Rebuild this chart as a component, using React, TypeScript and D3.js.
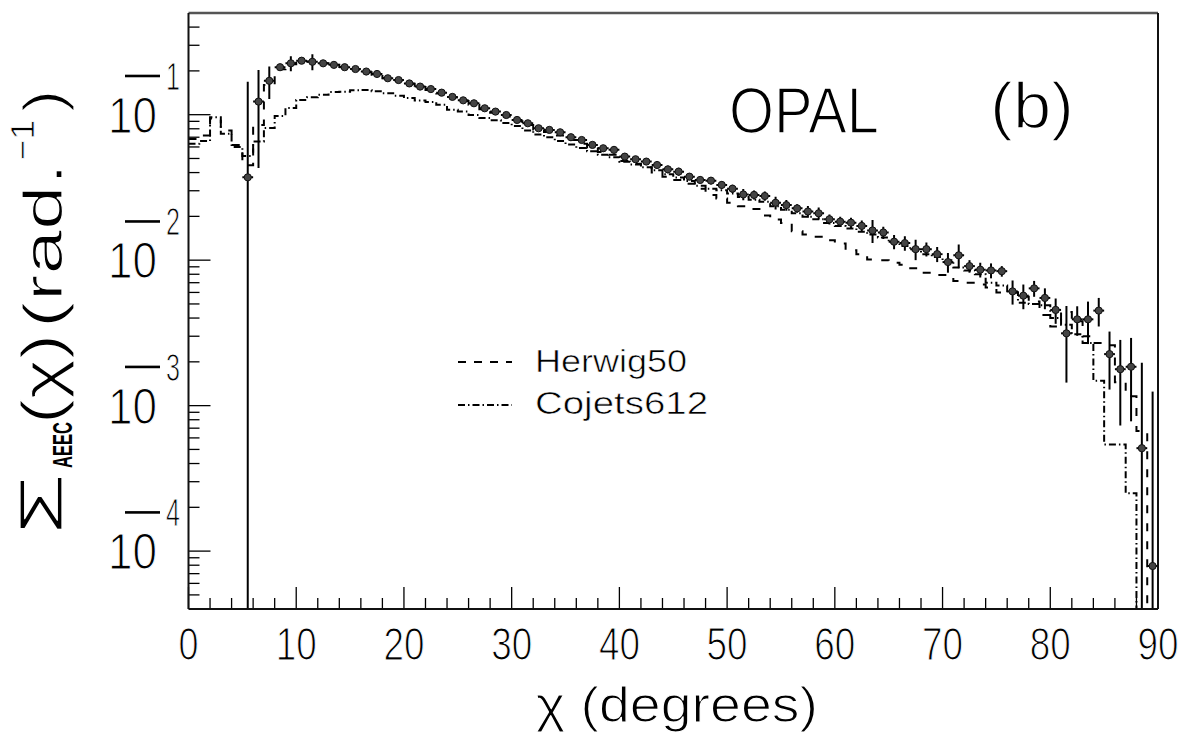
import React from 'react';
import * as d3 from 'd3';

const W = 1191;
const H = 742;
const PL = 188.5, PR = 1158, PT = 13, PB = 609;

// OPAL data: bin centres start at 5.5 deg, 1 deg bins
const dataFirstBin = 5;
const dataValues = [
  0.0371, 0.123, 0.171, 0.212, 0.2255, 0.235, 0.231, 0.2255, 0.22, 0.212,
  0.206, 0.198, 0.1905, 0.178, 0.173, 0.164, 0.156, 0.15, 0.1417, 0.1325,
  0.1255, 0.1198, 0.1107, 0.105, 0.0995, 0.092, 0.0873, 0.0807, 0.0786, 0.0757,
  0.07, 0.067, 0.062, 0.0588, 0.0573, 0.0515, 0.0494, 0.0476, 0.0451, 0.0421,
  0.0406, 0.0375, 0.0356, 0.0352, 0.0329, 0.031, 0.0283, 0.0281, 0.0276, 0.0248,
  0.0239, 0.0227, 0.0216, 0.021, 0.0191, 0.0184, 0.0181, 0.0172, 0.016, 0.0155,
  0.0134, 0.0131, 0.0119, 0.0119, 0.011, 0.0097, 0.0108, 0.0091, 0.0086, 0.0085,
  0.0084, 0.0061, 0.0057, 0.0064, 0.0055, 0.00455, 0.00314, 0.00392, 0.00392, 0.0045,
  0.00226, 0.00178, 0.00185, 0.00051, 0.000079,
];
const dataErrors = [
  0.1315, 0.08, 0.043, 0.01, 0.027, 0.01, 0.029, 0.008, 0.007, 0.006,
  0.006, 0.005, 0.005, 0.005, 0.005, 0.004, 0.004, 0.004, 0.004, 0.004,
  0.004, 0.004, 0.003, 0.003, 0.003, 0.003, 0.003, 0.003, 0.003, 0.003,
  0.003, 0.003, 0.003, 0.003, 0.003, 0.0025, 0.0025, 0.0025, 0.0025, 0.0025,
  0.0025, 0.002, 0.002, 0.002, 0.002, 0.002, 0.0025, 0.002, 0.002, 0.0025,
  0.002, 0.0015, 0.002, 0.002, 0.0015, 0.0015, 0.0015, 0.0015, 0.0029, 0.0015,
  0.0015, 0.0015, 0.0019, 0.0013, 0.0013, 0.0015, 0.002, 0.0009, 0.001, 0.001,
  0.0007, 0.00115, 0.0011, 0.0008, 0.0009, 0.0009, 0.0017, 0.0009, 0.00127, 0.001,
  0.00097, 0.00105, 0.00107, 0.00146, 0.00117,
];

// Monte Carlo histograms, bins 0-1 ... 89-90
const herwigValues = [
  0.068, 0.072, 0.094, 0.078, 0.062, 0.045, 0.085, 0.16, 0.205, 0.222,
  0.232, 0.232, 0.226, 0.22, 0.213, 0.204, 0.196, 0.188, 0.178, 0.171,
  0.163, 0.155, 0.148, 0.14, 0.131, 0.124, 0.117, 0.109, 0.103, 0.097,
  0.09, 0.085, 0.079, 0.076, 0.072, 0.067, 0.063, 0.059, 0.0555, 0.053,
  0.048, 0.046, 0.0435, 0.04, 0.0375, 0.0355, 0.0335, 0.031, 0.0281, 0.0265,
  0.0248, 0.0235, 0.0225, 0.0203, 0.019, 0.018, 0.0158, 0.015, 0.0145, 0.0137,
  0.013, 0.0117, 0.011, 0.0101, 0.01, 0.0096, 0.0093, 0.0088, 0.0082, 0.0079,
  0.0079, 0.0072, 0.007, 0.0068, 0.0065, 0.006, 0.006, 0.0056, 0.0052, 0.0042,
  0.0035, 0.0044, 0.0038, 0.003, 0.0027, 0.0026, 0.00145, 0.00116, 0.00067, 0,
];
const cojetsValues = [
  0.063, 0.066, 0.096, 0.074, 0.06, 0.052, 0.0655, 0.081, 0.098, 0.111,
  0.126, 0.132, 0.137, 0.143, 0.144, 0.147, 0.148, 0.145, 0.1405, 0.135,
  0.13, 0.125, 0.122, 0.117, 0.108, 0.105, 0.0995, 0.095, 0.0915, 0.0875,
  0.0835, 0.078, 0.073, 0.07, 0.066, 0.0625, 0.059, 0.056, 0.053, 0.051,
  0.0475, 0.0455, 0.0435, 0.0415, 0.039, 0.037, 0.035, 0.0325, 0.031, 0.0302,
  0.0287, 0.0272, 0.026, 0.0252, 0.0235, 0.0222, 0.021, 0.0199, 0.0191, 0.018,
  0.0172, 0.0165, 0.0157, 0.015, 0.0143, 0.0132, 0.0125, 0.0117, 0.011, 0.0105,
  0.01, 0.0089, 0.0085, 0.008, 0.007, 0.0067, 0.006, 0.0051, 0.005, 0.0049,
  0.004, 0.0036, 0.0031, 0.0027, 0.00148, 0.00054, 0.00054, 0.00025, 0, 0,
];

const xTickLabels = ['0', '10', '20', '30', '40', '50', '60', '70', '80', '90'];
const yDecades = [1e-1, 1e-2, 1e-3, 1e-4];
const yDecadeExps = ['1', '2', '3', '4'];

const FONT = "'Liberation Sans', Arial, Helvetica, sans-serif";
// thin the glyph strokes a little (white outline over the fill)
const thin = (w: number) => ({ stroke: '#fff', strokeWidth: w, strokeLinejoin: 'round' as const });

export default function App() {
  const x = d3.scaleLinear().domain([0, 90]).range([PL, PR]);
  const y = d3.scaleLog().domain([4e-5, 0.5]).range([PB, PT]);
  const yv = (v: number) => (v > 0 ? y(v) : PB + 30);

  const histPath = (vals: number[]) => {
    let d = `M${x(0)},${yv(vals[0])}`;
    vals.forEach((v, i) => {
      if (i > 0) d += `V${yv(v)}`;
      d += `H${x(i + 1)}`;
    });
    return d;
  };

  const xMinor = d3.range(0, 91, 2).filter((t) => t % 10 !== 0);
  const xMajor = d3.range(0, 91, 10);
  const yMinor: number[] = [];
  [-5, -4, -3, -2, -1].forEach((e) => {
    for (let k = 2; k <= 9; k++) {
      const v = k * Math.pow(10, e);
      if (v > 4e-5 && v < 0.5) yMinor.push(v);
    }
  });

  return (
    <div style={{ position: 'fixed', left: 0, top: 0 }}>
      <svg width={W} height={H} viewBox={`0 0 ${W} ${H}`} style={{ display: 'block', background: '#fff' }}>
        <defs>
          <clipPath id="plotclip">
            <rect x={PL} y={PT} width={PR - PL} height={PB - PT} />
          </clipPath>
        </defs>

        <g stroke="#000" strokeWidth={1.3}>
          {xMinor.map((t) => (
            <line key={'xm' + t} x1={x(t)} x2={x(t)} y1={PB} y2={PB - 11} />
          ))}
          {xMajor.map((t) => (
            <line key={'xM' + t} x1={x(t)} x2={x(t)} y1={PB} y2={PB - 22} />
          ))}
          {yMinor.map((v) => (
            <line key={'ym' + v} x1={PL} x2={PL + 11} y1={y(v)} y2={y(v)} />
          ))}
          {yDecades.map((v) => (
            <line key={'yM' + v} x1={PL} x2={PL + 22} y1={y(v)} y2={y(v)} />
          ))}
        </g>

        <g clipPath="url(#plotclip)" fill="none" stroke="#000" strokeWidth={2}>
          <path d={histPath(herwigValues)} strokeDasharray="8 10" />
          <path d={histPath(cojetsValues)} strokeDasharray="7 3 1.5 3" />
        </g>

        <g clipPath="url(#plotclip)">
          {dataValues.map((v, i) => {
            const c = dataFirstBin + i + 0.5;
            const e = dataErrors[i];
            const lo = v - e;
            return (
              <g key={'d' + i}>
                <line x1={x(c)} x2={x(c)} y1={y(v + e)} y2={lo > 0 ? y(lo) : PB + 10} stroke="#000" strokeWidth={2} />
                <line x1={x(c - 0.5)} x2={x(c + 0.5)} y1={y(v)} y2={y(v)} stroke="#000" strokeWidth={2} />
                <circle cx={x(c)} cy={y(v)} r={3.6} fill="#444" stroke="#111" strokeWidth={1} />
              </g>
            );
          })}
        </g>

        <line x1={PL} x2={PR} y1={PT} y2={PT} stroke="#555" strokeWidth={2.5} />
        <line x1={PL} x2={PL} y1={PT} y2={PB} stroke="#111" strokeWidth={2} />
        <line x1={PR} x2={PR} y1={PT} y2={PB} stroke="#111" strokeWidth={2} />
        <line x1={PL} x2={PR} y1={PB} y2={PB} stroke="#111" strokeWidth={2} />

        <g fontFamily={FONT} fontSize={47} fill="#000" textAnchor="middle" {...thin(1.2)}>
          {xTickLabels.map((s, i) => (
            <text key={'xl' + s} x={x(i * 10)} y={660} textLength={s.length === 1 ? 20 : 41} lengthAdjust="spacingAndGlyphs">
              {s}
            </text>
          ))}
        </g>

        <g fontFamily={FONT} fill="#000">
          {yDecades.map((v, i) => {
            const t = y(v);
            return (
              <g key={'yl' + i}>
                <text x={108} y={t + 18} fontSize={50} textLength={49} lengthAdjust="spacingAndGlyphs" {...thin(1.2)}>10</text>
                <rect x={125} y={t - 40} width={35} height={2.6} fill="#000" />
                <text x={166} y={t - 25} fontSize={38} textLength={14} lengthAdjust="spacingAndGlyphs" {...thin(1)}>{yDecadeExps[i]}</text>
              </g>
            );
          })}
        </g>

        <text x={536} y={722} fontFamily={FONT} fontSize={50} textLength={282} lengthAdjust="spacingAndGlyphs" {...thin(1.2)}>
          χ (degrees)
        </text>
        <g transform="translate(62,0) rotate(-90)" fontFamily={FONT} fill="#000">
          <text x={-535} y={0} fontSize={62} textLength={62} lengthAdjust="spacingAndGlyphs" {...thin(1.2)}>Σ</text>
          <text x={-468} y={10} fontSize={28} fontWeight="bold" textLength={46} lengthAdjust="spacingAndGlyphs">AEEC</text>
          <text x={-424} y={0} fontSize={58} textLength={90} lengthAdjust="spacingAndGlyphs" {...thin(1.2)}>(χ)</text>
          <text x={-328} y={0} fontSize={56} textLength={165} lengthAdjust="spacingAndGlyphs" {...thin(1.2)}>(rad.</text>
          <text x={-160} y={-28} fontSize={34} textLength={40} lengthAdjust="spacingAndGlyphs" {...thin(0.8)}>−1</text>
          <text x={-112} y={0} fontSize={56} textLength={22} lengthAdjust="spacingAndGlyphs" {...thin(1.2)}>)</text>
        </g>

        <text x={729} y={133} fontFamily={FONT} fontSize={64} textLength={150} lengthAdjust="spacingAndGlyphs" {...thin(1.6)}>OPAL</text>
        <text x={990} y={128} fontFamily={FONT} fontSize={64} textLength={84} lengthAdjust="spacingAndGlyphs" {...thin(1.6)}>(b)</text>

        <line x1={458} x2={512} y1={362} y2={362} stroke="#000" strokeWidth={2} strokeDasharray="8 8" />
        <line x1={458} x2={512} y1={405} y2={405} stroke="#000" strokeWidth={2} strokeDasharray="7 3 1.5 3" />
        <text x={535} y={372} fontFamily={FONT} fontSize={31} textLength={152} lengthAdjust="spacingAndGlyphs" {...thin(0.6)}>Herwig50</text>
        <text x={535} y={414} fontFamily={FONT} fontSize={31} textLength={173} lengthAdjust="spacingAndGlyphs" {...thin(0.6)}>Cojets612</text>
      </svg>
    </div>
  );
}
